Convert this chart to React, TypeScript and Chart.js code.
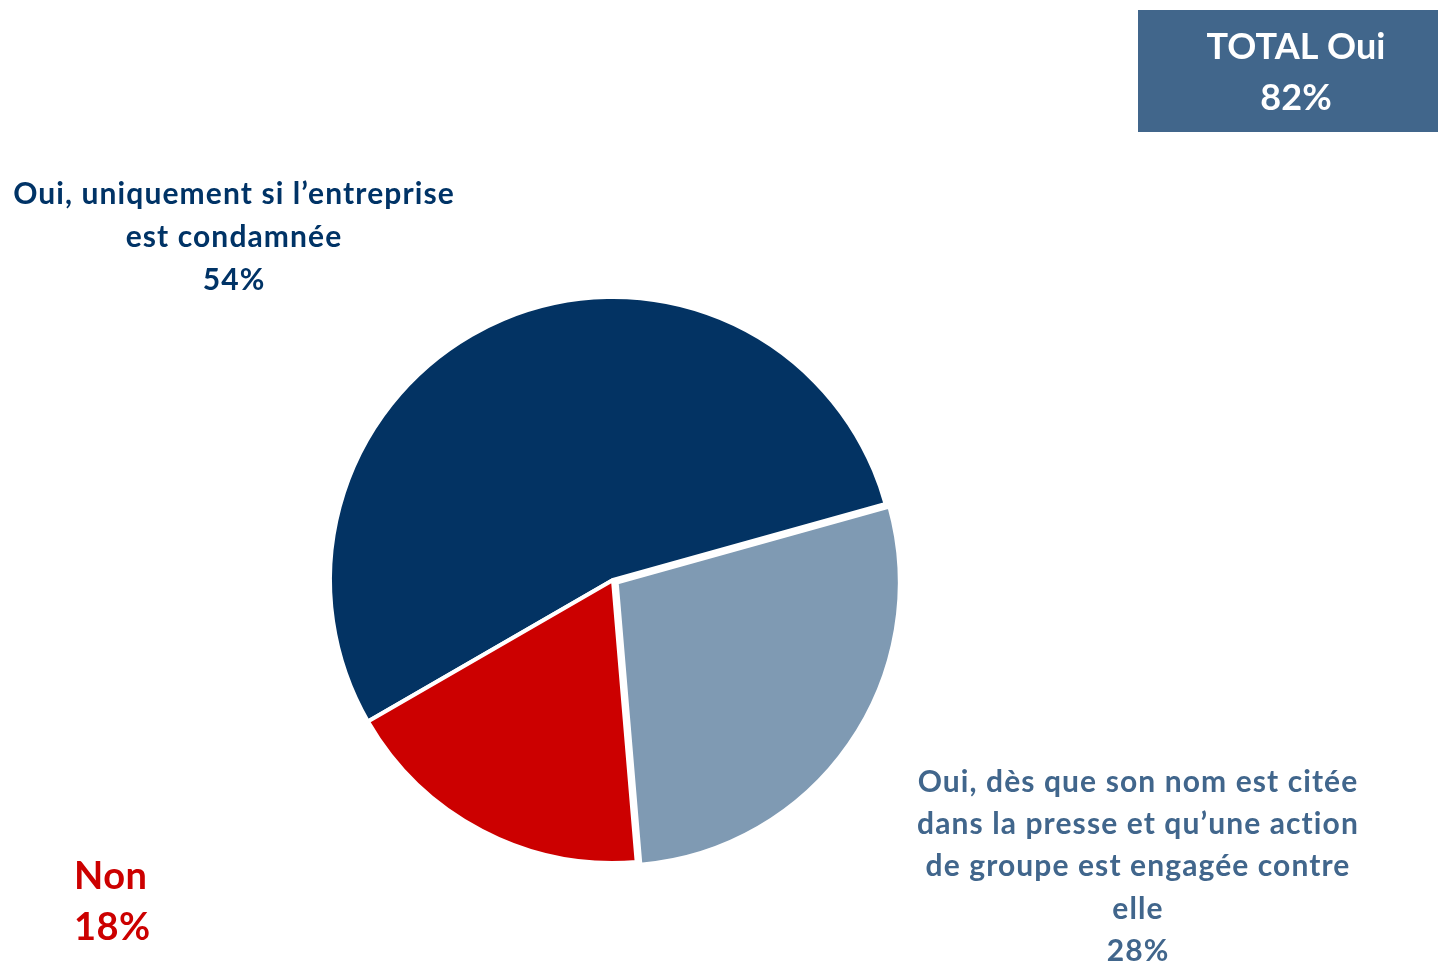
import React, { useEffect, useRef } from "react";
import { Chart, registerables } from "chart.js";

Chart.register(...registerables);

const categories = [
  "Oui, uniquement si l’entreprise est condamnée",
  "Oui, dès que son nom est citée dans la presse et qu’une action de groupe est engagée contre elle",
  "Non",
];
const values = [54, 28, 18];
const sliceColors = ["#033363", "#7f9ab3", "#cc0000"];
const labelLinesTopLeft = ["Oui, uniquement si l’entreprise", "est condamnée", "54%"];
const labelLinesRight = ["Oui, dès que son nom est citée", "dans la presse et qu’une action", "de groupe est engagée contre", "elle", "28%"];
const labelLinesNon = ["Non", "18%"];
const totalLines = ["TOTAL Oui", "82%"];

const FONT = "Lato, 'Open Sans', sans-serif";

const labelsPlugin = {
  id: "customLabels",
  afterDraw(chart: any) {
    const ctx = chart.ctx as any;
    ctx.save();
    // Total box
    ctx.fillStyle = "#41668b";
    ctx.fillRect(1138, 10, 300, 122);
    ctx.fillStyle = "#ffffff";
    ctx.textAlign = "center";
    ctx.textBaseline = "middle";
    ctx.font = `bold 36px ${FONT}`;
    totalLines.forEach((t, i) => ctx.fillText(t, 1296, 47 + i * 51));

    ctx.font = `bold 30px ${FONT}`;
    ctx.letterSpacing = "1.1px";
    ctx.fillStyle = "#003366";
    labelLinesTopLeft.forEach((t, i) => ctx.fillText(t, 234, 194 + i * 43));

    ctx.fillStyle = "#41668c";
    labelLinesRight.forEach((t, i) => ctx.fillText(t, 1138, 782 + i * 42.3));

    ctx.letterSpacing = "0.5px";
    ctx.textAlign = "left";
    ctx.fillStyle = "#cc0000";
    ctx.font = `bold 38px ${FONT}`;
    labelLinesNon.forEach((t, i) => ctx.fillText(t, 74, 877 + i * 51));
    ctx.restore();
  },
};

export default function App() {
  const ref = useRef<HTMLCanvasElement>(null);
  useEffect(() => {
    document.body.style.margin = "0";
    const chart = new Chart(ref.current!, {
      type: "pie",
      data: {
        labels: categories,
        datasets: [
          {
            data: values,
            backgroundColor: sliceColors,
            borderColor: "#ffffff",
            borderWidth: 4,
            offset: [0, 18, 0],
          },
        ],
      },
      options: {
        animation: false,
        responsive: false,
        rotation: 240,
        layout: { padding: { left: 319, top: 286, right: 531, bottom: 90 } },
        plugins: { legend: { display: false }, tooltip: { enabled: false } },
      },
      plugins: [labelsPlugin],
    });
    return () => chart.destroy();
  }, []);
  return (
    <div style={{ width: 1438, height: 964, background: "#fff" }}>
      <canvas ref={ref} width={1438} height={964} style={{ display: "block" }} />
    </div>
  );
}
